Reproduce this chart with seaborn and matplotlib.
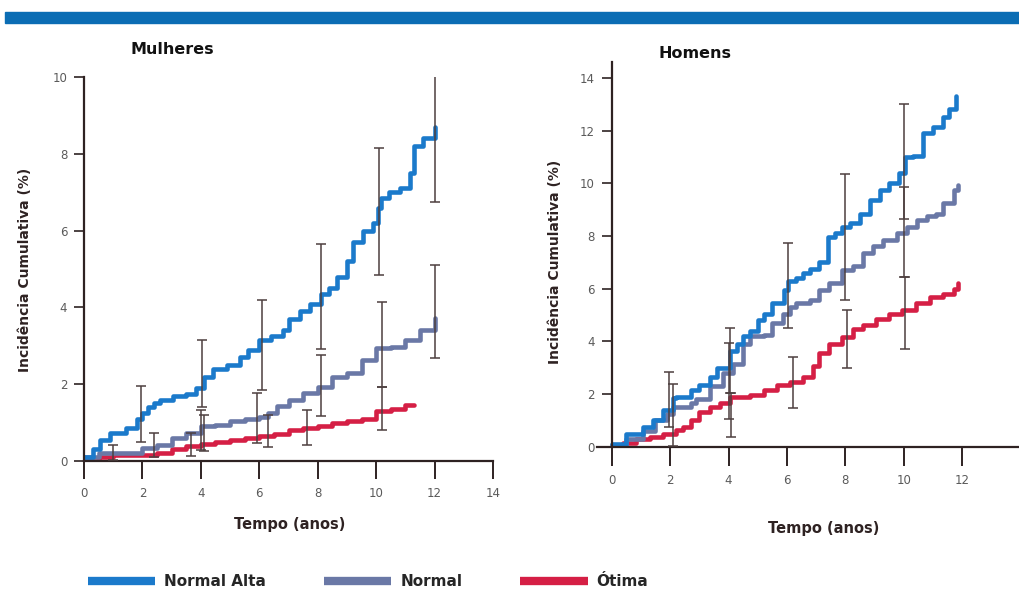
import seaborn as sns
import matplotlib.pyplot as plt
import pandas as pd
from matplotlib.lines import Line2D

# --- dados (incidência cumulativa, %) ---
grupos = ['Normal Alta', 'Normal', 'Ótima']
cores = {'Normal Alta': '#1b7acb', 'Normal': '#6a78a6', 'Ótima': '#d51f45'}

# Mulheres
t_m_alta = [0, 0.3, 0.55, 0.9, 1.45, 1.8, 2.0, 2.2, 2.4, 2.6, 3.05, 3.5, 3.85, 4.1, 4.4, 4.9,
            5.35, 5.6, 6.0, 6.4, 6.8, 7.0, 7.4, 7.75, 8.1, 8.4, 8.65, 9.0, 9.2, 9.55, 9.9,
            10.05, 10.15, 10.45, 10.8, 11.15, 11.3, 11.6, 12.0]
v_m_alta = [0.1, 0.3, 0.55, 0.72, 0.85, 1.1, 1.25, 1.4, 1.5, 1.6, 1.7, 1.75, 1.9, 2.2, 2.4, 2.5,
            2.7, 2.9, 3.15, 3.25, 3.4, 3.7, 3.9, 4.1, 4.35, 4.5, 4.8, 5.2, 5.7, 6.0, 6.2,
            6.6, 6.85, 7.0, 7.1, 7.5, 8.2, 8.4, 8.7]
t_m_norm = [0, 0.5, 1.0, 2.0, 2.5, 3.0, 3.5, 4.0, 4.5, 5.0, 5.5, 6.0, 6.3, 6.6, 7.0, 7.5, 8.0,
            8.5, 9.0, 9.5, 10.0, 10.5, 11.0, 11.5, 12.0]
v_m_norm = [0.1, 0.2, 0.22, 0.33, 0.42, 0.6, 0.72, 0.9, 0.95, 1.05, 1.1, 1.15, 1.25, 1.42, 1.6,
            1.77, 1.94, 2.2, 2.29, 2.63, 2.94, 2.98, 3.16, 3.42, 3.72]
t_m_otima = [0, 0.5, 1.0, 2.0, 2.5, 3.0, 3.5, 4.0, 4.5, 5.0, 5.5, 6.0, 6.5, 7.0, 7.5, 8.0, 8.5,
             9.0, 9.5, 10.0, 10.5, 11.0, 11.3]
v_m_otima = [0.0, 0.1, 0.15, 0.15, 0.2, 0.3, 0.4, 0.45, 0.5, 0.55, 0.6, 0.65, 0.7, 0.8, 0.85,
             0.9, 1.0, 1.05, 1.1, 1.3, 1.35, 1.45, 1.45]

# Homens
t_h_alta = [0, 0.5, 1.08, 1.4, 1.77, 2.1, 2.2, 2.7, 3.0, 3.35, 3.6, 4.05, 4.3, 4.5, 4.75, 5.0,
            5.2, 5.5, 5.9, 6.05, 6.3, 6.55, 6.8, 7.1, 7.4, 7.65, 7.9, 8.15, 8.5, 8.85, 9.2,
            9.5, 9.85, 10.05, 10.3, 10.65, 11.0, 11.35, 11.55, 11.8]
v_h_alta = [0.1, 0.5, 0.75, 1.0, 1.4, 1.85, 1.9, 2.15, 2.35, 2.65, 3.0, 3.65, 3.9, 4.2, 4.4, 4.8,
            5.05, 5.45, 5.95, 6.3, 6.4, 6.6, 6.75, 7.0, 7.95, 8.1, 8.35, 8.5, 8.85, 9.35, 9.75,
            10.0, 10.4, 11.0, 11.05, 11.9, 12.15, 12.5, 12.8, 13.3]
t_h_norm = [0, 0.5, 1.08, 1.5, 1.9, 2.1, 2.45, 2.7, 2.9, 3.35, 3.8, 4.15, 4.5, 4.75, 5.2, 5.5,
            5.85, 6.1, 6.3, 6.8, 7.1, 7.45, 7.9, 8.25, 8.6, 8.95, 9.3, 9.75, 10.1, 10.45, 10.8,
            11.1, 11.35, 11.7, 11.85]
v_h_norm = [0.05, 0.3, 0.6, 1.0, 1.25, 1.5, 1.5, 1.65, 1.8, 2.3, 2.8, 3.15, 3.9, 4.2, 4.25, 4.7,
            5.05, 5.3, 5.45, 5.55, 5.95, 6.2, 6.7, 6.85, 7.35, 7.6, 7.85, 8.1, 8.35, 8.6, 8.75,
            8.85, 9.25, 9.75, 9.95]
t_h_otima = [0.2, 0.4, 0.85, 1.3, 1.77, 2.2, 2.45, 2.7, 3.0, 3.35, 3.7, 4.05, 4.4, 4.75, 5.2,
             5.65, 6.1, 6.55, 6.9, 7.1, 7.45, 7.9, 8.25, 8.6, 9.05, 9.5, 9.95, 10.4, 10.9,
             11.35, 11.7, 11.85]
v_h_otima = [0.0, 0.13, 0.3, 0.38, 0.5, 0.63, 0.75, 1.0, 1.3, 1.5, 1.65, 1.9, 1.9, 1.95, 2.15,
             2.35, 2.45, 2.65, 3.05, 3.55, 3.9, 4.15, 4.45, 4.6, 4.85, 5.05, 5.2, 5.45, 5.7,
             5.8, 6.0, 6.2]

# barras de erro (intervalos de confiança)
eb_m_alta_t = [1.95, 4.05, 6.08, 8.1, 10.1, 12.0]
eb_m_alta_lo = [0.5, 1.41, 1.85, 2.91, 4.85, 6.75]
eb_m_alta_hi = [1.96, 3.15, 4.2, 5.65, 8.15, 10.7]
eb_m_norm_t = [1.0, 2.4, 4.0, 5.91, 8.1, 10.19, 12.02]
eb_m_norm_lo = [0.03, 0.11, 0.29, 0.46, 1.17, 1.94, 2.67]
eb_m_norm_hi = [0.42, 0.72, 1.33, 1.78, 2.76, 4.13, 5.1]
eb_m_otima_t = [3.65, 4.1, 6.31, 7.65, 10.19]
eb_m_otima_lo = [0.13, 0.25, 0.36, 0.42, 0.81]
eb_m_otima_hi = [0.72, 1.2, 1.2, 1.33, 1.94]

eb_h_alta_t = [1.96, 4.05, 6.05, 7.98, 10.0]
eb_h_alta_lo = [0.76, 2.03, 4.5, 5.57, 8.66]
eb_h_alta_hi = [2.85, 4.5, 7.72, 10.35, 12.99]
eb_h_norm_t = [2.11, 4.0, 10.0]
eb_h_norm_lo = [0.03, 1.05, 6.45]
eb_h_norm_hi = [2.38, 3.92, 9.84]
eb_h_otima_t = [4.1, 6.2, 8.05, 10.05]
eb_h_otima_lo = [0.38, 1.47, 2.98, 3.69]
eb_h_otima_hi = [2.03, 3.41, 5.19, 6.45]


def tabela(series):
    partes = [pd.DataFrame({'t': t, 'v': v, 'grupo': g}) for g, t, v in series]
    return pd.concat(partes, ignore_index=True)


df_m = tabela([('Ótima', t_m_otima, v_m_otima), ('Normal', t_m_norm, v_m_norm),
               ('Normal Alta', t_m_alta, v_m_alta)])
df_h = tabela([('Ótima', t_h_otima, v_h_otima), ('Normal', t_h_norm, v_h_norm),
               ('Normal Alta', t_h_alta, v_h_alta)])

escuro = '#2e2222'
cinza_tick = '#5a5a5a'
cor_erro = '#4d3f3f'

sns.set_style('white', {'xtick.bottom': True, 'ytick.left': True,
                        'xtick.color': escuro, 'ytick.color': escuro})
plt.rcParams['font.family'] = ['DejaVu Sans']
plt.rcParams['xtick.major.size'] = 12
plt.rcParams['ytick.major.size'] = 7
plt.rcParams['xtick.major.width'] = 1.4
plt.rcParams['ytick.major.width'] = 1.2

fig = plt.figure(figsize=(10.19, 5.92), dpi=100)

# faixa azul no topo
fig.add_artist(plt.Rectangle((0.005, 1 - 23 / 592), 1.0, 11 / 592,
                             transform=fig.transFigure, color='#0b6db4', zorder=0))

ax1 = fig.add_axes([84 / 1019, 131 / 592, 409 / 1019, 384 / 592])
ax2 = fig.add_axes([597 / 1019, 145.3 / 592, 422 / 1019, 384.7 / 592])


def desenha(ax, df, barras, xlim, ylim, xticks, yticks, xlen):
    sns.lineplot(data=df, x='t', y='v', hue='grupo', hue_order=['Ótima', 'Normal', 'Normal Alta'],
                 palette=cores, drawstyle='steps-post', linewidth=3.3, legend=False, ax=ax,
                 estimator=None, sort=True)
    for t, lo, hi in barras:
        mid = [(a + b) / 2 for a, b in zip(lo, hi)]
        half = [(b - a) / 2 for a, b in zip(lo, hi)]
        ax.errorbar(t, mid, yerr=half, fmt='none', ecolor=cor_erro, elinewidth=1.1,
                    capsize=3.5, capthick=1.1, zorder=5)
    ax.spines['top'].set_visible(False)
    ax.spines['right'].set_visible(False)
    ax.spines['left'].set_position(('data', 0))
    ax.set_xlabel('')
    ax.set_ylabel('')
    ax.set_xlim(*xlim)
    ax.set_ylim(*ylim)
    ax.set_xticks(xticks)
    ax.set_yticks(yticks)
    ax.set_axisbelow(False)
    for s in ['left', 'bottom']:
        ax.spines[s].set_color(escuro)
        ax.spines[s].set_linewidth(1.6)
    ax.tick_params(axis='x', bottom=True, length=xlen, width=1.4, color=escuro,
                   labelsize=8.5, labelcolor=cinza_tick, pad=6)
    ax.tick_params(axis='y', left=True, length=7, width=1.2, color=escuro,
                   labelsize=8.5, labelcolor=cinza_tick, pad=5)


desenha(ax1, df_m, [(eb_m_otima_t, eb_m_otima_lo, eb_m_otima_hi),
                    (eb_m_norm_t, eb_m_norm_lo, eb_m_norm_hi),
                    (eb_m_alta_t, eb_m_alta_lo, eb_m_alta_hi)],
        (0, 14), (0, 10), range(0, 15, 2), range(0, 11, 2), 13)
desenha(ax2, df_h, [(eb_h_otima_t, eb_h_otima_lo, eb_h_otima_hi),
                    (eb_h_norm_t, eb_h_norm_lo, eb_h_norm_hi),
                    (eb_h_alta_t, eb_h_alta_lo, eb_h_alta_hi)],
        (-0.5, 13.94), (0, 14.6), range(0, 13, 2), range(0, 15, 2), 14)

# títulos e rótulos
fig.text(172 / 1019, 1 - 50 / 592, 'Mulheres', ha='center', va='center',
         fontsize=11.5, fontweight='bold', color='#111111')
fig.text(695 / 1019, 1 - 53 / 592, 'Homens', ha='center', va='center',
         fontsize=11.5, fontweight='bold', color='#111111')
fig.text(25 / 1019, 1 - 270 / 592, 'Incidência Cumulativa (%)', rotation=90,
         ha='center', va='center', fontsize=10, fontweight='bold', color=escuro)
fig.text(555 / 1019, 1 - 262 / 592, 'Incidência Cumulativa (%)', rotation=90,
         ha='center', va='center', fontsize=10, fontweight='bold', color=escuro)
fig.text(290 / 1019, 1 - 525 / 592, 'Tempo (anos)', ha='center', va='center',
         fontsize=10.5, fontweight='bold', color=escuro)
fig.text(824 / 1019, 1 - 528 / 592, 'Tempo (anos)', ha='center', va='center',
         fontsize=10.5, fontweight='bold', color=escuro)

# legenda
handles = [Line2D([], [], color=cores[g], linewidth=6, solid_capstyle='butt') for g in grupos]
fig.legend(handles, grupos, loc='center', bbox_to_anchor=(368 / 1019, 1 - 582 / 592),
           ncol=3, frameon=False, handlelength=4.4, columnspacing=3.8, handletextpad=0.6,
           prop={'family': ['Liberation Sans Narrow', 'DejaVu Sans'], 'weight': 'bold',
                 'size': 11})

# garante que as marcas dos eixos fiquem visíveis
fig.canvas.draw()
for ax, xlen in [(ax1, 13), (ax2, 14)]:
    for tick in ax.xaxis.get_major_ticks():
        tick.tick1line.set_visible(True)
        tick.tick1line.set_markeredgecolor(escuro)
        tick.tick1line.set_markersize(xlen)
        tick.tick1line.set_markeredgewidth(1.4)
        tick.tick1line.set_zorder(10)
    for tick in ax.yaxis.get_major_ticks():
        tick.tick1line.set_visible(True)
        tick.tick1line.set_markeredgecolor(escuro)
        tick.tick1line.set_markersize(7)
        tick.tick1line.set_markeredgewidth(1.2)
        tick.tick1line.set_zorder(10)

fig.savefig('out.png', dpi=100, facecolor='white')
